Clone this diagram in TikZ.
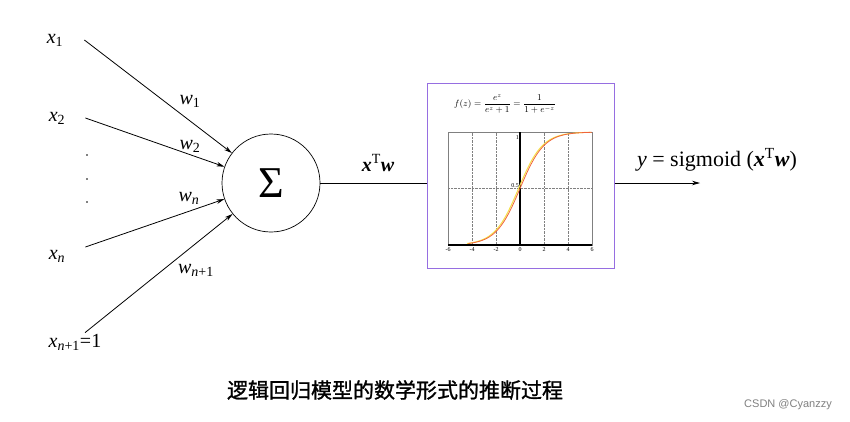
\documentclass[tikz,border=0pt]{standalone}
\usepackage{fontspec}
\setmainfont{Liberation Serif}
\newfontfamily\cjk[FakeBold=1.2]{Noto Sans CJK SC}
\newfontfamily\marca{Liberation Sans}
\usetikzlibrary{arrows.meta,positioning}
\definecolor{marco}{RGB}{150,110,225}
\definecolor{curva}{RGB}{240,100,60}
\definecolor{curvab}{RGB}{245,225,70}
\newcommand{\vx}[1]{\textit{x}\textsubscript{#1}}
\newcommand{\vw}[1]{\textit{w}\textsubscript{#1}}

\begin{document}
\begin{tikzpicture}[x=1pt,y=-1pt,
    >={Stealth[length=8pt,width=4.5pt]},
    etiq/.style={font=\fontsize{20}{22}\selectfont, inner sep=1pt},
    flecha/.style={->, line width=0.8pt},
    rejilla/.style={gray, densely dotted, line width=0.4pt},
    numeje/.style={font=\fontsize{6}{7}\selectfont, inner sep=1pt}]
  \useasboundingbox (0,0) rectangle (850,421);

  % Entradas
  \node[etiq] (x1) at (55,40) {\vx{1}};
  \node[etiq] (x2) at (57,118) {\vx{2}};
  \node[etiq] (xn) at (57,256) {\vx{\textit{n}}};
  \node[etiq] (xn1) at (75,342) {\vx{\textit{n}+1}=1};
  \foreach \i/\y in {1/155,2/179,3/202}
    \node[circle, fill, inner sep=0.7pt] (p\i) at (87,\y) {};

  % Neurona
  \node[draw, circle, minimum size=98pt, inner sep=0pt, line width=0.7pt,
        font=\fontsize{44}{44}\selectfont] (sum) at (271,183) {Σ};

  % Pesos
  \draw[flecha] ([xshift=20pt]x1.east) -- (sum);
  \draw[flecha] ([xshift=19pt]x2.east) -- (sum);
  \draw[flecha] ([shift={(19,-9)}]xn.east) -- (sum);
  \draw[flecha] ([xshift=10pt]xn1.north) -- (sum);
  \node[etiq] (w1) at (190,101) {\vw{1}};
  \node[etiq] (w2) at (190,146) {\vw{2}};
  \node[etiq] (wn) at (189,198) {\vw{\textit{n}}};
  \node[etiq] (wn1) at (196,270) {\vw{\textit{n}+1}};

  % Funcion sigmoide
  \node[draw=marco, line width=1pt, minimum width=187pt, minimum height=185pt,
        inner sep=0pt] (caja) at (520.5,175.5) {};
  \draw[line width=0.8pt] (sum.east) -- (sum.east -| caja.west);
  \node[etiq] (prod) at (378,163) {\textbf{\textit{x}}\textsuperscript{T}\textbf{\textit{w}}};
  \node[font=\fontsize{9}{10}\selectfont] (formula) at (505,104)
    {$f(z)=\displaystyle\frac{e^z}{e^z+1}=\frac{1}{1+e^{-z}}$};

  % Grafica
  \begin{scope}[shift={(520,245)}, x=12pt, y=113pt]
    \draw[gray, line width=0.4pt] (-6,0) rectangle (6,1);
    \foreach \i in {-4,-2,2,4}
      \draw[rejilla] (\i,0) -- (\i,1);
    \draw[rejilla] (-6,0.5) -- (6,0.5);
    \draw[line width=1.2pt] (-6,0) -- (6,0);
    \draw[line width=1.2pt] (0,0) -- (0,1);
    \foreach \i in {-6,-4,...,6}
      \node[numeje, below=1pt] (tick\i) at (\i,0) {\i};
    \draw[curvab, line width=1pt, domain=-4.3:6, samples=80, smooth, variable=\x]
      plot ({\x-0.12}, {1/(1+exp(-\x))});
    \draw[curva, line width=0.8pt, domain=-4.3:6, samples=80, smooth, variable=\x]
      plot ({\x}, {1/(1+exp(-\x))});
    \node[numeje, left] (uno) at (0,0.95) {1};
    \node[numeje, above left] (medio) at (0,0.5) {0.5};
  \end{scope}

  % Salida
  \coordinate (salida) at (700,183);
  \draw[flecha] (caja.east |- sum.east) -- (salida);
  \node[font=\fontsize{22}{24}\selectfont] (y) at (717,160)
    {\textit{y} = sigmoid (\textbf{\textit{x}}\textsuperscript{T}\textbf{\textit{w}})};

  % Titulo
  \node[font=\cjk\fontsize{21}{22}\selectfont] (titulo) at (395,390)
    {逻辑回归模型的数学形式的推断过程};
  \node[font=\marca\fontsize{11}{12}\selectfont, text=gray] (marca) at (788,405)
    {CSDN @Cyanzzy};
\end{tikzpicture}
\end{document}
